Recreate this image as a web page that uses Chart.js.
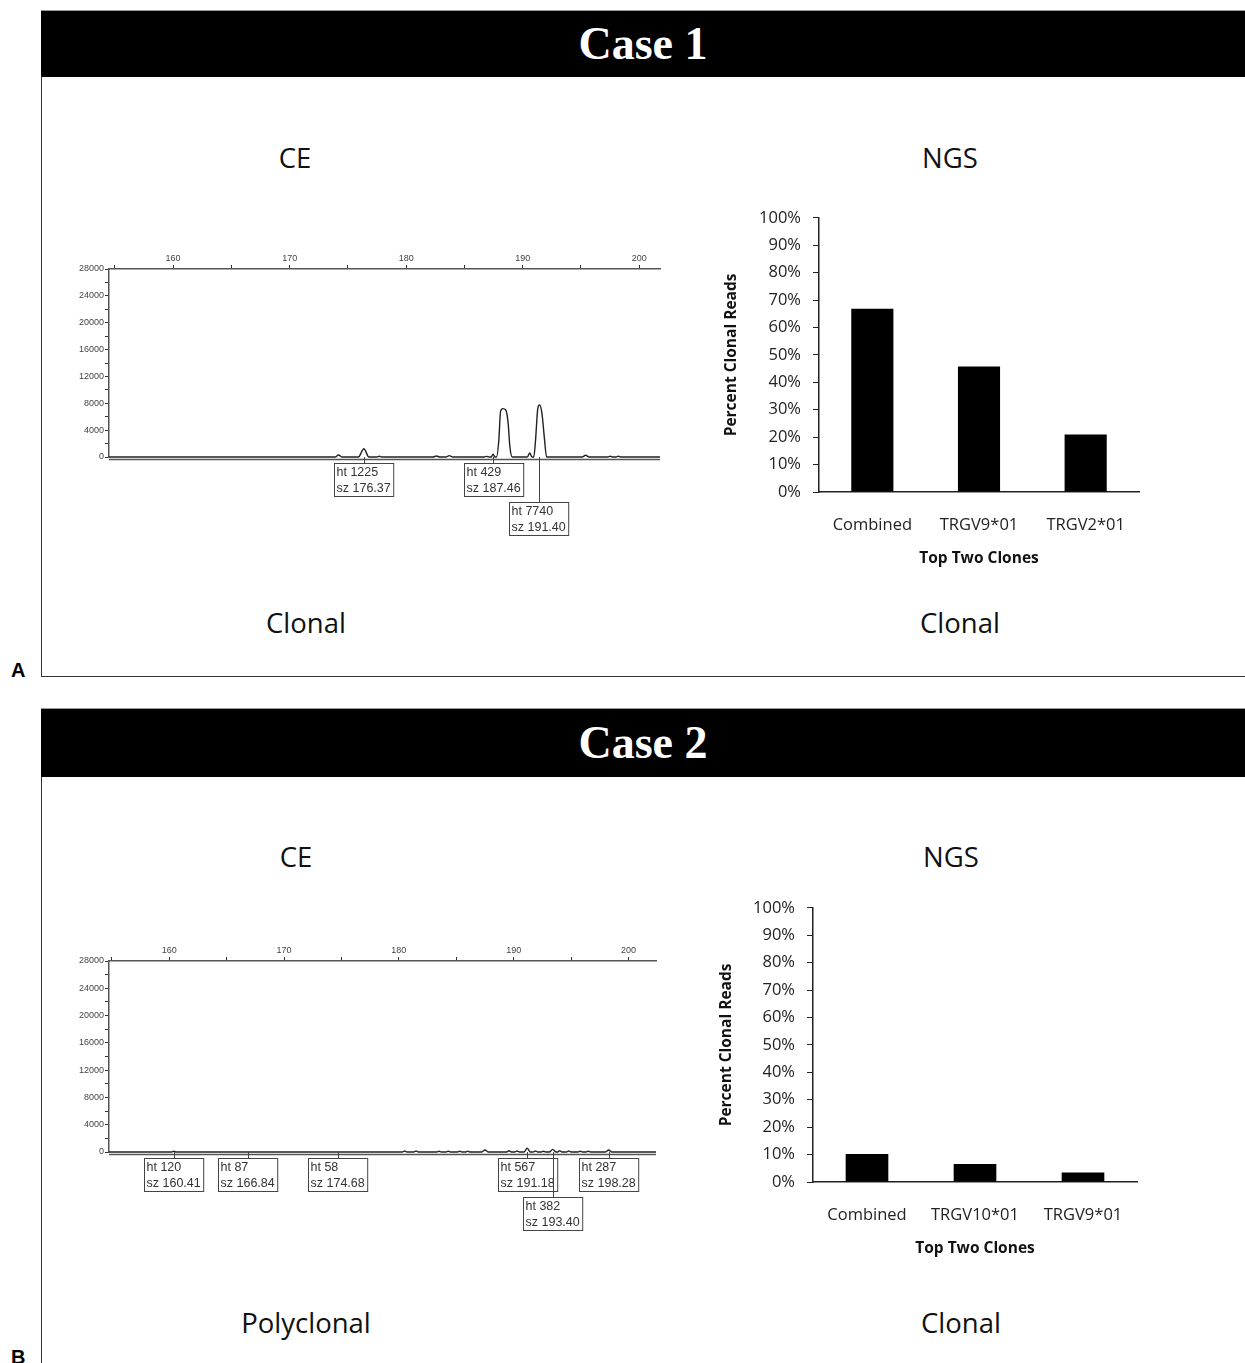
<!DOCTYPE html>
<html>
<head>
<meta charset="utf-8">
<script src="https://cdn.jsdelivr.net/npm/chart.js@4.4.1/dist/chart.umd.min.js"></script>
<style>
  body { margin: 0; background: #fff; }
  #page { position: relative; width: 1245px; height: 1363px; overflow: hidden; font-family: "Open Sans", sans-serif; }
  .header { position: absolute; left: 41px; width: 1204px; background: #000; border-top: 1px solid #999;
            color: #fff; text-align: center; font: bold 46px "Liberation Serif", serif; }
  .panel { position: absolute; left: 41px; width: 1204px; border-left: 1.5px solid #333; }
  .txt { position: absolute; transform: translate(-50%, -50%); white-space: nowrap; font-size: 27.5px; color: #111; }
  .letter { position: absolute; font: bold 20px "Liberation Sans", sans-serif; color: #000; }
  canvas { position: absolute; }
</style>
</head>
<body>
<div id="page">
  <div class="header" style="top:10px;height:66px;line-height:66px;">Case 1</div>
  <div class="panel" style="top:76px;height:600px;border-bottom:1.5px solid #333;"></div>
  <div class="letter" style="left:11px;top:659px;">A</div>
  <div class="txt" style="left:295px;top:157px;">CE</div>
  <div class="txt" style="left:950px;top:157px;">NGS</div>
  <div class="txt" style="left:306px;top:622px;">Clonal</div>
  <div class="txt" style="left:960px;top:622px;">Clonal</div>
  <canvas id="ceA" width="620" height="310" style="left:50px;top:240px;"></canvas>
  <canvas id="ngsA" width="460" height="384" style="left:700px;top:196px;"></canvas>

  <div class="header" style="top:708px;height:68px;line-height:68px;">Case 2</div>
  <div class="panel" style="top:777px;height:600px;"></div>
  <div class="letter" style="left:11px;top:1346px;">B</div>
  <div class="txt" style="left:296px;top:856px;">CE</div>
  <div class="txt" style="left:951px;top:856px;">NGS</div>
  <div class="txt" style="left:306px;top:1322px;">Polyclonal</div>
  <div class="txt" style="left:961px;top:1322px;">Clonal</div>
  <canvas id="ceB" width="620" height="310" style="left:50px;top:935px;"></canvas>
  <canvas id="ngsB" width="460" height="384" style="left:700px;top:886px;"></canvas>
</div>
<script>
// CE electropherogram traces (fragment size in bp, peak height in RFU)
const ceSizesA = [154.5, 173.9, 174.2, 174.5, 175.9, 176.37, 176.8, 177.5, 177.7, 177.9,
  182.3, 182.6, 182.9, 183.4, 183.7, 184.0, 186.7, 186.9, 187.1, 187.3, 187.46, 187.6,
  187.75, 187.95, 188.1, 188.3, 188.55, 188.75, 188.9, 189.1, 190.4, 190.6, 190.8,
  190.95, 191.1, 191.3, 191.45, 191.65, 191.85, 192.05, 195.1, 195.4, 195.7, 197.3, 197.5, 197.7,
  198.0, 198.2, 198.4, 201.78];
const ceHeightsA = [0, 0, 300, 0, 0, 1225, 0, 0, 120, 0,
  0, 150, 0, 0, 200, 0, 0, 100, 0, 0, 429, 0,
  0, 2500, 6800, 7200, 7000, 5000, 1500, 0, 0, 600, 0,
  0, 2500, 7300, 7740, 6500, 3000, 0, 0, 250, 0, 0, 120, 0,
  0, 120, 0, 0];
const peakSizesA = [176.37, 187.46, 191.40];
const peakHeightsA = [1225, 429, 7740];

const ceSizesB = [154.75, 160.2, 160.41, 160.6, 180.3, 180.5, 180.7, 181.3, 181.5, 181.7,
  183.3, 183.5, 183.7, 184.1, 184.3, 184.5, 185.1, 185.3, 185.5, 185.8, 186.0, 186.2,
  187.2, 187.5, 187.8, 189.4, 189.6, 189.8, 190.1, 190.3, 190.5, 190.9, 191.18, 191.45,
  191.7, 191.9, 192.1, 192.4, 192.6, 192.8, 193.1, 193.4, 193.7, 193.85, 194.0, 194.2,
  194.6, 194.8, 195.0, 195.6, 195.8, 196.0, 196.3, 196.5, 196.7, 198.0, 198.28, 198.55, 202.4];
const ceHeightsB = [0, 0, 120, 0, 0, 150, 0, 0, 150, 0,
  0, 100, 0, 0, 120, 0, 0, 110, 0, 0, 130, 0,
  0, 300, 0, 0, 180, 0, 0, 150, 0, 0, 567, 0,
  0, 140, 0, 0, 120, 0, 0, 382, 0, 0, 200, 0,
  0, 150, 0, 0, 100, 0, 0, 120, 0, 0, 287, 0, 0];
const peakSizesB = [160.41, 166.84, 174.68, 191.18, 193.40, 198.28];
const peakHeightsB = [120, 87, 58, 567, 382, 287];

// NGS top clones
const cloneLabelsA = ["Combined", "TRGV9*01", "TRGV2*01"];
const clonePctA = [66.9, 45.8, 21.0];
const cloneLabelsB = ["Combined", "TRGV10*01", "TRGV9*01"];
const clonePctB = [10.2, 6.6, 3.5];

// draws the "ht / sz" boxes under the trace and the double baseline
const peakLabels = {
  id: "peakLabels",
  afterDraw(chart, args, opts) {
    const { ctx, chartArea } = chart;
    const xs = chart.scales.x;
    ctx.save();
    ctx.strokeStyle = "#555";
    ctx.lineWidth = 1.3;
    ctx.beginPath();
    ctx.moveTo(chartArea.left, chartArea.bottom + 2.5);
    ctx.lineTo(chartArea.right, chartArea.bottom + 2.5);
    ctx.stroke();

    ctx.font = '12.5px "Liberation Sans", sans-serif';
    ctx.textBaseline = "middle";
    const rowEnd = [-Infinity, -Infinity];
    opts.sizes.forEach((sz, i) => {
      const l1 = "ht " + opts.heights[i];
      const l2 = "sz " + sz.toFixed(2);
      const w = Math.max(ctx.measureText(l1).width, ctx.measureText(l2).width) + 5;
      const h = 33;
      const cx = xs.getPixelForValue(sz);
      const left = Math.round(cx - w / 2) + 0.5;
      const row = left < rowEnd[0] + 2 ? 1 : 0;
      rowEnd[row] = left + w;
      const top = Math.round(chartArea.bottom + 6 + row * 39) + 0.5;
      ctx.strokeStyle = "#444";
      ctx.lineWidth = 1;
      ctx.beginPath();
      ctx.moveTo(Math.round(cx) + 0.5, chartArea.bottom);
      ctx.lineTo(Math.round(cx) + 0.5, top);
      ctx.stroke();
      ctx.fillStyle = "#fff";
      ctx.fillRect(left, top, w, h);
      ctx.strokeRect(left, top, w, h);
      ctx.fillStyle = "#333";
      ctx.fillText(l1, left + 2, top + 9);
      ctx.fillText(l2, left + 2, top + 25);
    });
    ctx.restore();
  }
};

function makeCE(id, sizes, heights, pSizes, pHeights, xMin, xMax, topH, padRight) {
  const tickFont = { family: '"Liberation Sans", sans-serif', size: 9 };
  new Chart(document.getElementById(id), {
    type: "line",
    data: {
      datasets: [{
        data: sizes.map((s, i) => ({ x: s, y: heights[i] })),
        borderColor: "#222",
        borderWidth: 1.4,
        pointRadius: 0,
        cubicInterpolationMode: "monotone",
        clip: 6,
      }],
    },
    plugins: [peakLabels],
    options: {
      responsive: false,
      animation: false,
      layout: { padding: { right: padRight, bottom: 93 } },
      plugins: {
        legend: { display: false },
        tooltip: { enabled: false },
        peakLabels: { sizes: pSizes, heights: pHeights },
      },
      scales: {
        x: {
          type: "linear",
          position: "top",
          min: xMin,
          max: xMax,
          afterFit: (s) => { s.height = topH; },
          border: { color: "#555", width: 1.5 },
          grid: { drawOnChartArea: false, color: "#333", tickLength: 4 },
          ticks: {
            stepSize: 5,
            includeBounds: false,
            autoSkip: false,
            maxRotation: 0,
            padding: 1,
            color: "#444",
            font: tickFont,
            callback: (v) => (v % 10 === 0 ? v : ""),
          },
        },
        y: {
          min: 0,
          max: 28000,
          afterFit: (s) => { s.width = 59; },
          border: { color: "#555", width: 1.5 },
          grid: { drawOnChartArea: false, color: "#333", tickLength: 4 },
          ticks: {
            stepSize: 2000,
            autoSkip: false,
            padding: 1,
            color: "#444",
            font: tickFont,
            callback: (v) => (v % 4000 === 0 ? v : ""),
          },
        },
      },
    },
  });
}

function makeNGS(id, labels, values, yWidth, padTop, padRight, titleOffset) {
  const font = { family: '"Open Sans", sans-serif', size: 16.5 };
  new Chart(document.getElementById(id), {
    type: "bar",
    data: {
      labels: labels,
      datasets: [{
        data: values,
        backgroundColor: "#000",
        barPercentage: 0.395,
        categoryPercentage: 1,
      }],
    },
    options: {
      responsive: false,
      animation: false,
      layout: { padding: { top: padTop, right: padRight } },
      plugins: { legend: { display: false }, tooltip: { enabled: false } },
      scales: {
        x: {
          afterFit: (s) => { s.height = 88; },
          border: { color: "#222", width: 1.5 },
          grid: { display: false, drawTicks: false },
          ticks: { color: "#222", font: font, padding: 23, maxRotation: 0 },
          title: {
            display: true,
            text: "Top Two Clones",
            color: "#111",
            font: { family: '"Open Sans", sans-serif', size: 15.5, weight: "bold" },
            padding: { top: 0, bottom: 12 },
          },
        },
        y: {
          min: 0,
          max: 100,
          afterFit: (s) => { s.width = yWidth; },
          border: { color: "#222", width: 1.5 },
          grid: { drawOnChartArea: false, color: "#222", tickLength: 6 },
          ticks: {
            stepSize: 10,
            color: "#222",
            font: font,
            padding: 12,
            callback: (v) => v + "%",
          },
          title: {
            display: true,
            text: "Percent Clonal Reads",
            color: "#111",
            font: { family: '"Open Sans", sans-serif', size: 15.5, weight: "bold" },
            padding: { top: titleOffset, bottom: 0 },
          },
        },
      },
    },
  });
}

makeCE("ceA", ceSizesA, ceHeightsA, peakSizesA, peakHeightsA, 154.5, 201.78, 29, 10);
makeCE("ceB", ceSizesB, ceHeightsB, peakSizesB, peakHeightsB, 154.75, 202.4, 26, 14);
makeNGS("ngsA", cloneLabelsA, clonePctA, 119, 13, 21, 22);
makeNGS("ngsB", cloneLabelsB, clonePctB, 113, 13, 23, 17);
</script>
</body>
</html>
